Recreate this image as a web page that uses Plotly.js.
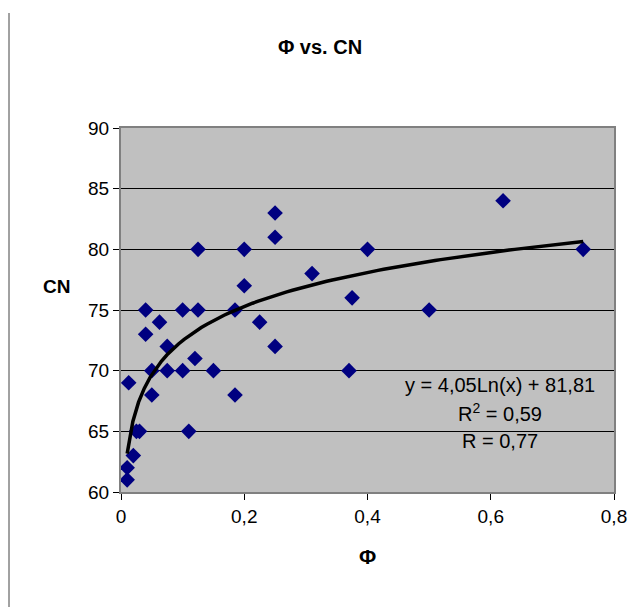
<!DOCTYPE html>
<html>
<head>
<meta charset="utf-8">
<script src="https://cdn.plot.ly/plotly-3.0.1.min.js"></script>
<style>html,body{margin:0;padding:0;background:#fff;}#chart{width:640px;height:607px;}</style>
</head>
<body>
<div id="chart"></div>
<script>
// Data
const phi = [0.01, 0.01, 0.02, 0.025, 0.03, 0.0125, 0.04, 0.04, 0.05, 0.05, 0.0625, 0.075, 0.075, 0.1, 0.1, 0.11, 0.12, 0.125, 0.125, 0.15, 0.185, 0.185, 0.2, 0.2, 0.225, 0.25, 0.25, 0.25, 0.31, 0.37, 0.375, 0.4, 0.5, 0.62, 0.75];
const cn  = [61, 62, 63, 65, 65, 69, 73, 75, 70, 68, 74, 72, 70, 75, 70, 65, 71, 75, 80, 70, 75, 68, 80, 77, 74, 83, 81, 72, 78, 70, 76, 80, 75, 84, 80];
// Logarithmic trendline coefficients shown in the chart
const trendA = 4.05;
const trendB = 81.81;
const eqLines = ["y = 4,05Ln(x) + 81,81", "R<sup>2</sup> = 0,59", "R = 0,77"];
const xTicks = [0, 0.2, 0.4, 0.6, 0.8];
const yTicks = [60, 65, 70, 75, 80, 85, 90];

const xMin = Math.min(...phi), xMax = Math.max(...phi);
const tx = [], ty = [];
const n = 80;
for (let i = 0; i <= n; i++) {
  const x = xMin + (xMax - xMin) * i / n;
  tx.push(x);
  ty.push(trendA * Math.log(x) + trendB);
}

const font = "Liberation Sans, Arial, sans-serif";
const traces = [
  {x: phi, y: cn, type: 'scatter', mode: 'markers', name: 'CN',
   marker: {symbol: 'diamond', size: 12, color: '#000080', line: {width: 0}}},
  {x: tx, y: ty, type: 'scatter', mode: 'lines', name: 'trend',
   line: {color: '#000000', width: 3.5}}
];

const eqY = [68.82, 66.59, 64.19];
const annotations = eqLines.map((t, i) => ({
  x: 0.615, y: eqY[i], xref: 'x', yref: 'y', text: t, showarrow: false,
  xanchor: 'center', yanchor: 'middle', font: {family: font, size: 20, color: '#000'}
}));
annotations.push({
  x: (56 - 121) / 493, y: (607 - 115 - 286) / 364, xref: 'paper', yref: 'paper',
  text: '<b>CN</b>', showarrow: false, xanchor: 'center', yanchor: 'middle',
  font: {family: font, size: 19, color: '#000'}
});

const layout = {
  width: 640, height: 607,
  margin: {l: 121, r: 26, t: 128, b: 115},
  paper_bgcolor: '#ffffff', plot_bgcolor: '#c0c0c0',
  separators: ', ',
  showlegend: false,
  title: {text: '<b>Φ vs. CN</b>', x: 0.5, xref: 'container', xanchor: 'center',
          y: 1 - 47 / 607, yref: 'container', yanchor: 'middle',
          font: {family: font, size: 20, color: '#000'}},
  xaxis: {range: [0, 0.8], tickvals: xTicks, ticks: 'outside', ticklen: 6, tickcolor: '#000',
          showgrid: false, zeroline: false, showline: true, mirror: true, linecolor: '#808080', linewidth: 2,
          tickfont: {family: font, size: 19, color: '#000'},
          title: {text: '<b>Φ</b>', font: {family: font, size: 21, color: '#000'}, standoff: 24}},
  yaxis: {range: [60, 90], tickvals: yTicks, ticks: 'outside', ticklen: 6, tickcolor: '#000',
          showgrid: true, gridcolor: '#000000', gridwidth: 1, zeroline: false,
          showline: true, mirror: true, linecolor: '#808080', linewidth: 2,
          tickfont: {family: font, size: 19, color: '#000'}},
  annotations: annotations,
  shapes: [{type: 'line', xref: 'paper', yref: 'paper',
            x0: (9 - 121) / 493, x1: (9 - 121) / 493, y0: (492 - 13) / 364, y1: (492 - 607) / 364,
            line: {color: '#444', width: 1}}]
};

Plotly.newPlot('chart', traces, layout, {displayModeBar: false, staticPlot: true});
</script>
</body>
</html>
